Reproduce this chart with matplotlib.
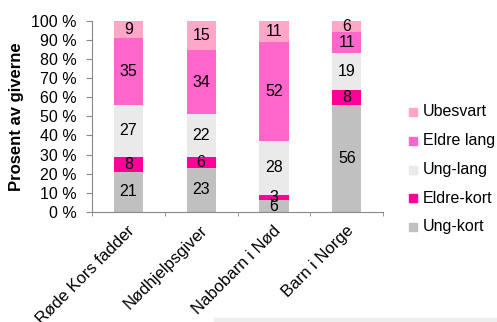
import numpy as np
import matplotlib
matplotlib.use("Agg")
import matplotlib.pyplot as plt
from matplotlib.patches import Rectangle
from matplotlib.transforms import ScaledTranslation

plt.rcParams['font.family'] = ['Liberation Sans', 'DejaVu Sans']

categories = ['Røde Kors fadder', 'Nødhjelpsgiver', 'Nabobarn i Nød', 'Barn i Norge']
ung_kort = [21, 23, 6, 56]
eldre_kort = [8, 6, 3, 8]
ung_lang = [27, 22, 28, 19]
eldre_lang = [35, 34, 52, 11]
ubesvart = [9, 15, 11, 6]

series = [('Ung-kort', ung_kort, '#C0C0C0'),
          ('Eldre-kort', eldre_kort, '#FF0099'),
          ('Ung-lang', ung_lang, '#EAEAEA'),
          ('Eldre lang', eldre_lang, '#FF66CC'),
          ('Ubesvart', ubesvart, '#FFA6C9')]

fs = 11.5
W, H = 497, 322

fig = plt.figure(figsize=(4.97, 3.22), dpi=100)
ax = fig.add_axes([0.185, 0.342, 0.586, 0.593])

x = np.arange(len(categories))
bottom = np.zeros(len(categories))
for name, vals, col in series:
    vals = np.array(vals, dtype=float)
    ax.bar(x, vals, 0.4, bottom=bottom, color=col, label=name)
    for xi, b, v in zip(x, bottom, vals):
        ax.text(xi, b + v / 2, str(int(v)), ha='center', va='center', fontsize=fs)
    bottom += vals

ax.set_xlim(-0.5, len(categories) - 0.5)
ax.set_ylim(0, 100)
ax.set_yticks(np.arange(0, 101, 10))
ax.set_yticklabels([f'{v} %' for v in range(0, 101, 10)], fontsize=fs)
ax.set_xticks(x)
ax.set_xticklabels(categories, rotation=45, ha='right', rotation_mode='anchor', fontsize=12)
ax.tick_params(axis='x', length=0, pad=8)
shift = ScaledTranslation(-1 / 100, 0, fig.dpi_scale_trans)
for lab in ax.get_xticklabels():
    lab.set_transform(lab.get_transform() + shift)
ax.set_xticks(np.arange(-0.5, len(categories), 1), minor=True)
ax.tick_params(axis='x', which='minor', length=3, color='#888888')
ax.tick_params(axis='y', length=4, color='#888888', pad=7)
for s in ['top', 'right']:
    ax.spines[s].set_visible(False)
for s in ['left', 'bottom']:
    ax.spines[s].set_color('#888888')
ax.set_ylabel('Prosent av giverne', fontsize=12, fontweight='bold', labelpad=5)

# legend, drawn by hand so the rows sit where the reference has them
row_y = [112, 140.75, 169.5, 198.25, 227]
for (name, vals, col), yp in zip(series[::-1], row_y):
    fig.patches.append(Rectangle((409 / W, 1 - (yp + 4) / H), 8 / W, 8 / H,
                                 transform=fig.transFigure, color=col))
    fig.text(423 / W, 1 - yp / H, name, ha='left', va='center', fontsize=11.5)

fig.patches.append(Rectangle((0.43, 0.0), 0.57, 0.013, transform=fig.transFigure,
                             color='#EEEEEE', zorder=0))

fig.savefig('out.png', dpi=100)
